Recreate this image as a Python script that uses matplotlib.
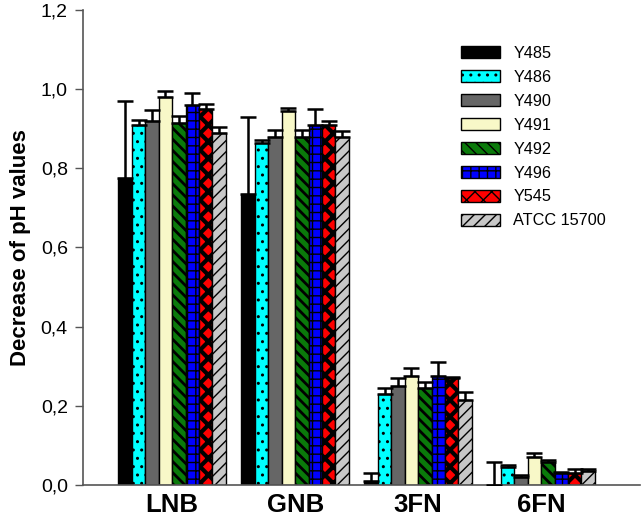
import matplotlib
matplotlib.use("Agg")
import matplotlib.pyplot as plt
import numpy as np

plt.rcParams['font.family'] = ['Liberation Sans', 'DejaVu Sans']

categories = ["LNB", "GNB", "3FN", "6FN"]
series = ["Y485", "Y486", "Y490", "Y491", "Y492", "Y496", "Y545", "ATCC 15700"]
values = {
    "Y485":       [0.775, 0.735, 0.010, 0.000],
    "Y486":       [0.910, 0.865, 0.230, 0.045],
    "Y490":       [0.920, 0.880, 0.250, 0.020],
    "Y491":       [0.980, 0.945, 0.275, 0.070],
    "Y492":       [0.915, 0.880, 0.245, 0.058],
    "Y496":       [0.960, 0.910, 0.275, 0.030],
    "Y545":       [0.950, 0.910, 0.270, 0.030],
    "ATCC 15700": [0.890, 0.880, 0.215, 0.035],
}
errors = {
    "Y485":       [0.195, 0.195, 0.020, 0.058],
    "Y486":       [0.012, 0.006, 0.015, 0.006],
    "Y490":       [0.028, 0.016, 0.020, 0.005],
    "Y491":       [0.015, 0.006, 0.020, 0.012],
    "Y492":       [0.016, 0.016, 0.015, 0.005],
    "Y496":       [0.030, 0.040, 0.035, 0.003],
    "Y545":       [0.012, 0.010, 0.004, 0.010],
    "ATCC 15700": [0.015, 0.015, 0.020, 0.005],
}
yticks = [0.0, 0.2, 0.4, 0.6, 0.8, 1.0, 1.2]
ytick_labels = ["0,0", "0,2", "0,4", "0,6", "0,8", "1,0", "1,2"]

styles = {
    "Y485":       dict(color="#000000", hatch=None),
    "Y486":       dict(color="#00FFFF", hatch=".."),
    "Y490":       dict(color="#666666", hatch=None),
    "Y491":       dict(color="#F8F8C8", hatch=None),
    "Y492":       dict(color="#0A7A0A", hatch="\\\\\\"),
    "Y496":       dict(color="#0000FF", hatch="++"),
    "Y545":       dict(color="#FF0000", hatch="xx"),
    "ATCC 15700": dict(color="#C8C8C8", hatch="///"),
}
hatch_lw = {"Y486": 1.0, "Y492": 2.0, "Y496": 1.0, "Y545": 3.0, "ATCC 15700": 1.0}

fig = plt.figure(figsize=(6.44, 5.19), dpi=100)
ax = fig.add_axes([0.129, 0.0655, 0.865, 0.9155])

x = np.arange(len(categories))
w = 0.109
n = len(series)
for i, s in enumerate(series):
    pos = x + (i - (n - 1) / 2) * w
    st = styles[s]
    bars = ax.bar(pos, values[s], width=w, color=st["color"], edgecolor="black",
                  linewidth=1.0, hatch=st["hatch"], label=s, zorder=2)
    if s in hatch_lw:
        for b in bars:
            try:
                b.set_hatch_linewidth(hatch_lw[s])
            except Exception:
                pass
    ax.errorbar(pos, values[s], yerr=[np.zeros(len(categories)), errors[s]],
                fmt="none", ecolor="black", elinewidth=1.8, capsize=6, capthick=1.8, zorder=3)

ax.set_xlim(-0.724, 3.805)
ax.set_ylim(0, 1.2)
ax.set_yticks(yticks)
ax.set_yticklabels(ytick_labels, fontsize=14)
ax.set_xticks(x)
ax.set_xticklabels(categories, fontsize=18.5, fontweight="bold")
ax.tick_params(axis="x", length=0, pad=6)
ax.tick_params(axis="y", direction="out", length=6, width=1, color="#555555", pad=5)
ax.set_ylabel("Decrease of pH values", fontsize=16, fontweight="bold", labelpad=7)
for sp in ["top", "right"]:
    ax.spines[sp].set_visible(False)
for sp in ["left", "bottom"]:
    ax.spines[sp].set_color("#555555")
    ax.spines[sp].set_linewidth(1.2)

leg = ax.legend(loc="upper right", bbox_to_anchor=(0.965, 0.955), frameon=False, fontsize=11.7,
                handlelength=2.4, handleheight=0.8, labelspacing=0.55)

fig.savefig("out.png", dpi=100)
